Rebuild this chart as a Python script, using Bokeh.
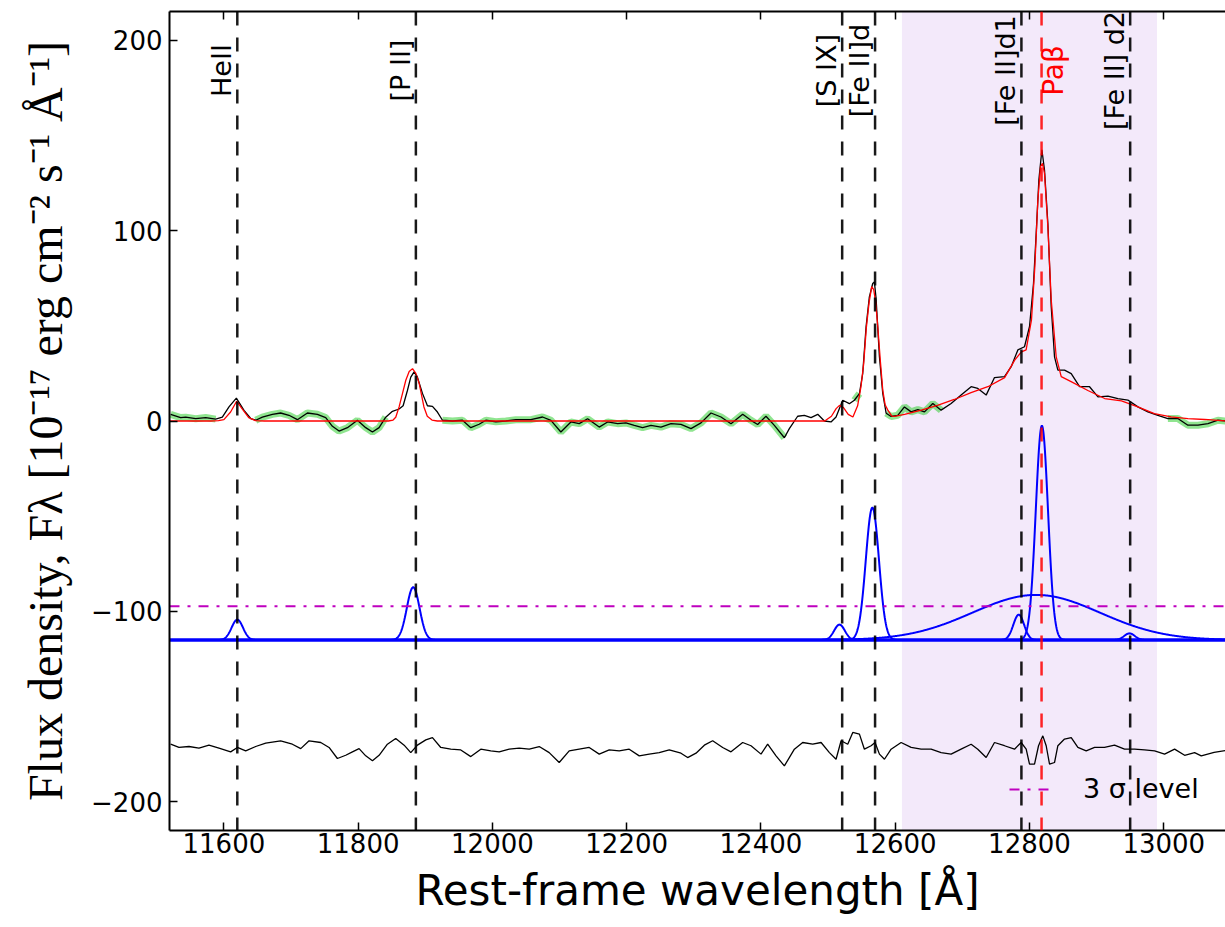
import numpy as np
from bokeh.plotting import figure
from bokeh.models import (Range1d, FixedTicker, LinearAxis, Span, BoxAnnotation,
                          Legend, LegendItem)
from bokeh.core.properties import value
from bokeh.embed import file_html
from bokeh.resources import INLINE

# ---------------- data ----------------
x_limits = [11519, 13092]
y_limits = [-215, 215]
x_ticks = [11600, 11800, 12000, 12200, 12400, 12600, 12800, 13000]
y_ticks = [-200, -100, 0, 100, 200]
y_tick_labels = {-200: "\u2212200", -100: "\u2212100", 0: "0", 100: "100", 200: "200"}

# observed spectrum
obs_wave = [11520.7, 11535.6, 11543.1, 11558.0, 11572.9, 11587.8, 11597.7, 11607.6, 11618.6,
            11630.0, 11640.0, 11647.4, 11657.3, 11672.2, 11684.6, 11697.0, 11709.5, 11724.4,
            11739.3, 11751.7, 11761.7, 11771.6, 11784.0, 11798.9, 11811.3, 11821.3, 11831.2,
            11841.1, 11851.1, 11861.0, 11867.0, 11873.4, 11878.4, 11883.4, 11888.3, 11895.8,
            11903.2, 11910.7, 11918.1, 11925.6, 11940.5, 11955.4, 11967.8, 11980.2, 11990.2,
            12005.1, 12020.0, 12034.9, 12057.3, 12074.7, 12087.1, 12102.0, 12116.9, 12129.3,
            12141.8, 12159.1, 12171.6, 12186.5, 12198.9, 12211.3, 12223.7, 12236.2, 12251.1,
            12266.0, 12280.9, 12295.8, 12310.7, 12325.6, 12340.5, 12355.4, 12372.8, 12385.2,
            12395.1, 12407.5, 12420.0, 12434.9, 12442.3, 12454.7, 12464.7, 12474.6, 12484.6,
            12494.5, 12504.4, 12511.9, 12521.8, 12531.7, 12539.2, 12546.7, 12551.6, 12556.6,
            12561.5, 12566.5, 12569.0, 12571.5, 12576.5, 12581.5, 12586.5, 12593.9, 12603.8,
            12613.8, 12623.7, 12633.7, 12643.6, 12656.0, 12668.4, 12683.3, 12698.2, 12713.1,
            12723.0, 12735.5, 12747.9, 12762.8, 12772.8, 12782.7, 12792.6, 12800.1, 12806.0,
            12810.0, 12814.0, 12818.5, 12822.4, 12827.4, 12832.4, 12837.3, 12842.3, 12852.2,
            12862.2, 12874.6, 12889.5, 12902.0, 12916.8, 12931.7, 12946.6, 12961.5, 12976.4,
            12991.3, 13006.2, 13021.0, 13036.0, 13051.0, 13065.9, 13080.8, 13093.0]
obs_flux = [3.5, 1.8, 2.0, 1.2, 1.8, 1.0, 2.0, 7.4, 12.0,
            5.6, 1.3, 0.4, 2.0, 3.5, 4.2, 3.0, 0.7, 4.2,
            3.5, 1.8, -2.8, -5.3, -3.5, 0.4, -3.5, -5.8, -3.5,
            2.0, 5.1, 6.3, 8.0, 16.0, 23.0, 25.8, 23.0, 14.5,
            8.0, 7.7, 4.7, 0.4, 0.0, 0.4, -3.5, -1.7, 0.4,
            -0.4, 0.0, 0.7, 0.7, 2.1, 0.35, -5.8, -0.5, -1.4,
            1.2, -3.2, -0.5, -1.4, -1.0, -2.3, -3.5, -2.3, -3.2,
            -1.4, -1.8, -4.0, -1.0, 4.2, 2.1, -1.4, 3.5, 0.35,
            -1.8, 2.5, -2.3, -8.8, -4.0, 2.5, 3.0, 1.8, 3.5,
            0.0, -0.5, 2.1, 10.9, 9.1, 10.9, 14.4, 24.9, 49.4,
            65.2, 72.2, 73.0, 64.4, 33.7, 14.4, 4.1, 2.4, 3.0,
            7.4, 4.8, 6.0, 4.8, 9.2, 5.7, 9.2, 13.6, 18.0,
            17.1, 13.6, 22.8, 23.3, 28.5, 37.3, 39.0, 49.6, 72.2,
            98.5, 126.6, 142.4, 131.8, 103.8, 60.0, 33.7, 26.7, 26.7,
            24.9, 18.0, 18.0, 12.7, 13.1, 11.8, 11.0, 7.4, 4.8,
            3.0, 1.3, 1.3, -2.2, -2.2, -1.4, 0.4, 0.0]

# continuum windows highlighted in green
cont_windows = [(11519, 11596), (11645, 11845), (11925, 12440),
                (12534, 12550), (12584, 12671), (13000, 13093)]

# total fitted model (red)
model_wave = [11519, 11580, 11592, 11600, 11610, 11619, 11627, 11637, 11647, 11660,
              11845, 11852, 11856, 11861, 11866, 11871, 11876, 11881, 11886, 11891,
              11898, 11903, 11910, 11918, 12495, 12505, 12512, 12517, 12523, 12530,
              12537, 12544, 12549, 12553, 12557, 12561, 12565, 12568, 12571, 12574,
              12578, 12581.5, 12585, 12589, 12595, 12599, 12614, 12639, 12664, 12688,
              12713, 12738, 12763, 12778, 12788, 12795, 12803, 12808, 12812.5, 12816.5,
              12819.4, 12822.4, 12827.4, 12832.4, 12839.8, 12847.3, 12862, 12887, 12912,
              12937, 12961.5, 12986, 13011, 13036, 13061, 13093]
model_flux = [0.0, 0.0, 0.2, 0.7, 4.7, 10.4, 6.5, 1.8, 0.2, 0.0,
              0.0, 0.5, 2.0, 7.4, 14.4, 21.4, 26.0, 27.5, 25.0, 19.6,
              7.4, 2.5, 0.5, 0.0, 0.0, 2.5, 6.5, 8.2, 7.0, 3.5,
              2.1, 8.0, 18.0, 30.0, 49.0, 62.0, 70.5, 69.0, 62.0, 49.6,
              31.0, 16.1, 8.5, 5.7, 2.6, 2.4, 3.5, 5.7, 8.3, 11.3,
              14.9, 18.0, 22.8, 32.0, 36.3, 37.3, 53.1, 81.0, 116.0, 133.6,
              135.3, 130.0, 102.0, 63.5, 33.7, 23.3, 20.7, 16.0, 11.8,
              10.6, 7.4, 3.9, 2.2, 1.3, 0.8, 0.0]

# residuals (offset)
resid_wave = [11520.7, 11533.1, 11548.0, 11562.9, 11577.8, 11592.7, 11610.1, 11620.1, 11632.5,
              11647.4, 11662.3, 11684.6, 11702.0, 11714.5, 11726.9, 11744.3, 11756.7, 11769.1,
              11781.5, 11791.5, 11801.4, 11811.3, 11821.3, 11831.2, 11843.6, 11856.0, 11868.5,
              11878.4, 11888.3, 11900.8, 11910.7, 11923.1, 11938.0, 11952.9, 11967.8, 11982.7,
              11997.6, 12010.1, 12025.0, 12039.9, 12054.8, 12069.7, 12084.6, 12099.5, 12114.4,
              12129.3, 12144.2, 12159.1, 12174.0, 12188.9, 12203.8, 12218.7, 12233.6, 12248.5,
              12263.4, 12280.9, 12290.8, 12303.3, 12315.7, 12328.1, 12343.0, 12355.4, 12372.8,
              12385.2, 12400.1, 12410.0, 12422.5, 12434.9, 12449.8, 12462.2, 12477.1, 12489.6,
              12502.0, 12511.9, 12519.4, 12529.3, 12536.8, 12546.7, 12554.1, 12564.1, 12570.0,
              12576.5, 12584.0, 12593.9, 12608.8, 12623.7, 12638.6, 12653.5, 12668.4, 12683.3,
              12698.2, 12713.1, 12723.0, 12735.5, 12747.9, 12762.8, 12777.7, 12787.6, 12795.1,
              12800.1, 12807.5, 12813.5, 12819.9, 12824.9, 12829.9, 12837.3, 12842.3, 12852.2,
              12862.2, 12872.1, 12884.5, 12897.0, 12911.8, 12926.7, 12941.6, 12956.5, 12971.4,
              12986.4, 13001.3, 13016.2, 13031.1, 13046.0, 13055.9, 13075.0, 13093.0]
resid_flux = [-169.7, -171.4, -170.9, -171.8, -170.2, -171.8, -173.7, -171.4, -173.2,
              -170.9, -169.1, -167.9, -169.7, -172.0, -167.9, -168.8, -171.4, -177.2,
              -175.5, -173.7, -172.0, -175.8, -178.4, -175.5, -169.7, -166.7, -170.2,
              -174.1, -170.2, -167.4, -166.2, -171.4, -172.3, -172.7, -176.2, -172.3,
              -173.2, -173.7, -172.3, -171.8, -172.3, -170.9, -174.1, -179.3, -173.2,
              -172.3, -171.4, -174.9, -172.7, -173.2, -172.3, -175.8, -174.9, -174.1,
              -172.7, -174.4, -176.7, -174.4, -170.2, -167.9, -171.4, -173.7, -168.8,
              -170.5, -174.9, -169.7, -175.8, -181.1, -172.3, -168.8, -169.7, -168.8,
              -174.1, -177.6, -167.9, -169.7, -163.5, -164.4, -172.3, -170.5, -168.8,
              -174.9, -177.6, -172.3, -168.8, -171.4, -172.3, -172.3, -174.1, -174.9,
              -172.3, -169.7, -172.3, -176.7, -168.8, -170.5, -172.3, -168.8, -172.3,
              -180.2, -180.2, -170.5, -165.3, -170.5, -180.2, -179.3, -170.5, -167.0,
              -166.2, -171.4, -173.2, -171.4, -171.4, -170.2, -172.3, -172.3, -172.7,
              -173.2, -174.9, -172.3, -175.5, -174.1, -175.8, -174.0, -173.0]

# emission line identifications
line_names = ["HeII", "[P II]", "[S IX]", "[Fe II]d", "[Fe II]d1", "[Fe II] d2"]
line_waves = [11620, 11886, 12521, 12570, 12788, 12950]
pab_name = "Pa\u03b2"
pab_wave = 12818
label_level = 184

# fitted gaussian components (drawn offset below the spectrum)
comp_centers = [11620, 11882, 12517, 12566, 12784, 12818.5, 12810, 12949]
comp_peaks = [10.7, 27.7, 8.1, 69.5, 13.3, 112.5, 23.7, 3.5]
comp_sigmas = [8.5, 9.5, 8.0, 9.8, 8.0, 9.1, 95.0, 8.0]
comp_offset = -115
sigma3_level = -97.3
shade_range = [12610, 12990]

# ---------------- figure ----------------
p = figure(width=1225, height=927, x_range=Range1d(*x_limits), y_range=Range1d(*y_limits),
           output_backend="svg", toolbar_location=None,
           min_border_left=169, min_border_right=0, min_border_top=11, min_border_bottom=97)
p.outline_line_color = None
p.grid.visible = False
p.background_fill_color = "white"

p.add_layout(BoxAnnotation(left=shade_range[0], right=shade_range[1], fill_color="#f3e9fa",
                           fill_alpha=1.0, line_color=None, level="underlay"))

# axes styling
for ax in (p.xaxis[0], p.yaxis[0]):
    ax.major_tick_in = 8
    ax.major_tick_out = 0
    ax.minor_tick_line_color = None
    ax.major_tick_line_width = 1.5
    ax.axis_line_width = 2
    ax.major_label_text_font = "DejaVu Sans"
    ax.major_label_text_font_size = "26px"
    ax.major_label_text_color = "black"
    ax.axis_label_text_font_style = "normal"
    ax.axis_label_text_color = "black"

p.xaxis.ticker = FixedTicker(ticks=x_ticks, minor_ticks=[])
p.yaxis.ticker = FixedTicker(ticks=y_ticks, minor_ticks=[])
p.yaxis.major_label_overrides = y_tick_labels
p.xaxis.major_label_standoff = 2
p.yaxis.major_label_standoff = 7

p.xaxis.axis_label = "Rest-frame wavelength [\u00c5]"
p.xaxis.axis_label_text_font = "DejaVu Sans"
p.xaxis.axis_label_text_font_size = "42px"
p.xaxis.axis_label_standoff = 10

p.yaxis.axis_label = ("Flux density, F\u03bb [10\u207b\u00b9\u2077 erg cm\u207b\u00b2 "
                      "s\u207b\u00b9 \u00c5\u207b\u00b9]")
p.yaxis.axis_label_text_font = "Liberation Serif"
p.yaxis.axis_label_text_font_size = "48px"
p.yaxis.axis_label_standoff = 16

top_axis = LinearAxis(ticker=FixedTicker(ticks=x_ticks, minor_ticks=[]),
                      major_label_text_font_size="1px", major_label_text_color=None,
                      major_label_standoff=0,
                      major_tick_in=8, major_tick_out=0, major_tick_line_width=1.5,
                      minor_tick_line_color=None, axis_line_width=2)
p.add_layout(top_axis, "above")

# green continuum windows
obs_w = np.array(obs_wave)
obs_f = np.array(obs_flux)
for lo, hi in cont_windows:
    m = (obs_w >= lo) & (obs_w <= hi)
    p.line(obs_w[m], obs_f[m], line_color="#22cc22", line_alpha=0.5, line_width=7)

# observed spectrum, model, residual
p.line(obs_wave, obs_flux, line_color="black", line_width=1.3)
p.line(model_wave, model_flux, line_color="#ff0000", line_width=1.3)
p.line(resid_wave, resid_flux, line_color="black", line_width=1.3)

# gaussian components
grid = np.arange(x_limits[0], x_limits[1] + 0.5, 0.5)
p.line(x_limits, [comp_offset, comp_offset], line_color="#0000ff", line_width=3.5)
for c, a, s in zip(comp_centers, comp_peaks, comp_sigmas):
    p.line(grid, comp_offset + a * np.exp(-0.5 * ((grid - c) / s) ** 2),
           line_color="#0000ff", line_width=2)

# 3 sigma level
r3 = p.line(x_limits, [sigma3_level, sigma3_level], line_color="#bf00bf", line_width=2,
            line_dash="10 8 3 8")

# identification lines
for w in line_waves:
    p.add_layout(Span(location=w, dimension="height", line_color="black", line_width=2.5,
                      line_dash="14 12", line_alpha=0.9))
p.add_layout(Span(location=pab_wave, dimension="height", line_color="#ff0000", line_width=2.5,
                  line_dash="14 12", line_alpha=0.85))

p.text(x=line_waves, y=[label_level] * len(line_waves), text=line_names, angle=np.pi / 2,
       text_align="center", text_baseline="bottom", text_color="black",
       text_font=value("DejaVu Sans"), text_font_size="27px")
p.text(x=[pab_wave], y=[label_level], text=[pab_name], angle=np.pi / 2, x_offset=-5,
       text_align="center", text_baseline="top", text_color="#ff0000",
       text_font=value("DejaVu Sans"), text_font_size="28px")

legend = Legend(items=[LegendItem(label="3 \u03c3 level", renderers=[r3])],
                location=(840, 26), border_line_color=None, background_fill_alpha=0,
                label_text_font="DejaVu Sans", label_text_font_size="27px",
                label_text_color="black",
                glyph_width=41, glyph_height=20, label_height=20, label_standoff=33,
                padding=0, margin=0, spacing=0)
p.add_layout(legend)

open("out.html", "w").write(file_html(p, INLINE))
